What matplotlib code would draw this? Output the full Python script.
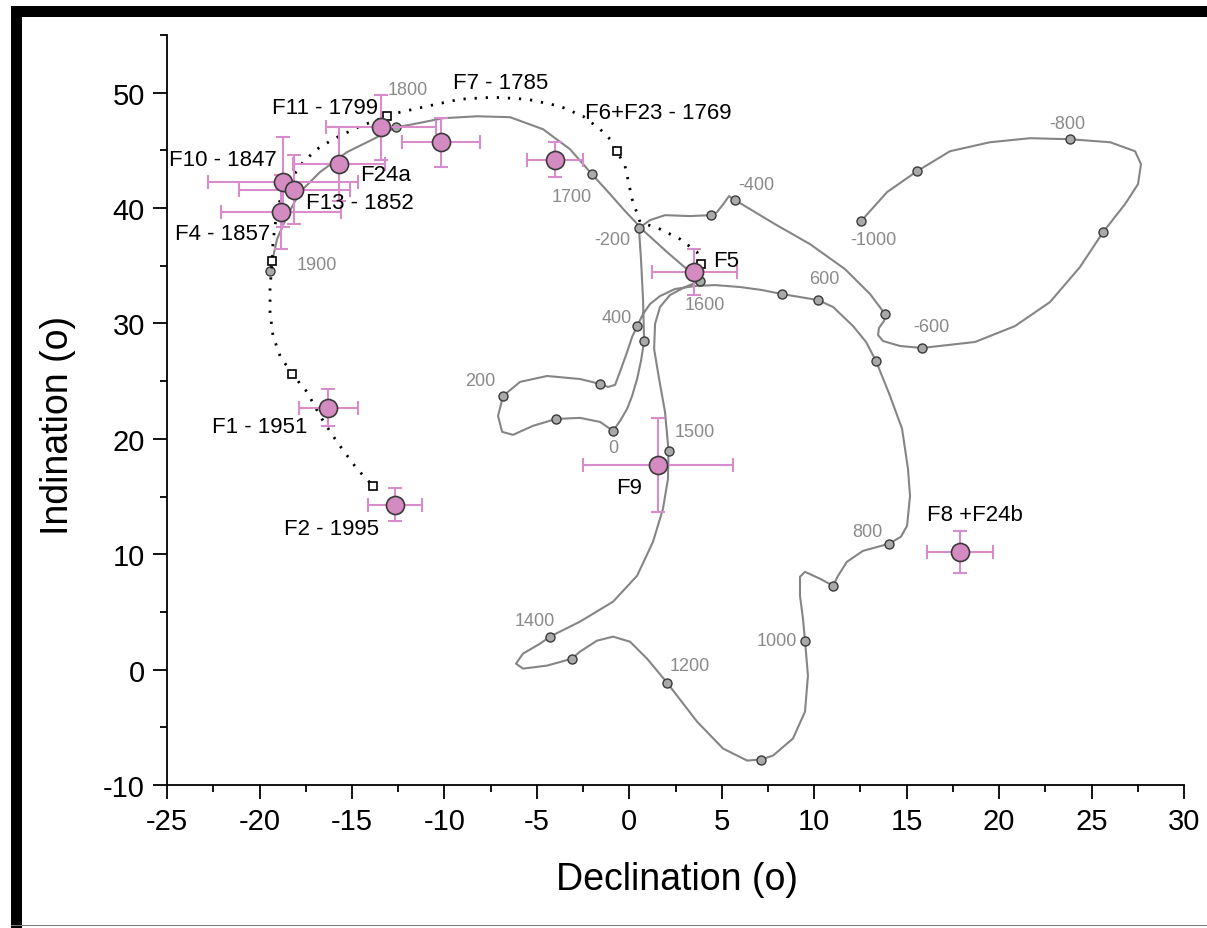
import numpy as np
import matplotlib
matplotlib.use("Agg")
import matplotlib.pyplot as plt
from matplotlib.patches import Rectangle
from matplotlib.ticker import MultipleLocator

plt.rcParams['font.family'] = ['Liberation Sans', 'DejaVu Sans']
plt.rcParams['axes.unicode_minus'] = False

# archaeomagnetic reference curve: dated nodes (every 100 yr)
curve_years = [-1000, -900, -800, -700, -600, -500, -400, -300, -200, -100,
               0, 100, 200, 300, 400, 500, 600, 700, 800, 900,
               1000, 1100, 1200, 1300, 1400, 1500, 1600, 1700, 1800, 1900]
curve_dec = [12.53, 15.56, 23.83, 25.62, 15.83, 13.83, 5.72, 4.42, 0.52, 0.80,
             -0.88, -3.96, -6.83, -1.58, 0.42, 8.26, 10.21, 13.34, 14.05, 11.02,
             9.50, 7.12, 2.04, -3.10, -4.29, 2.12, 3.82, -2.02, -12.62, -19.43]
curve_inc = [38.87, 43.20, 45.97, 37.92, 27.88, 30.82, 40.69, 39.39, 38.27, 28.48,
             20.69, 21.73, 23.72, 24.76, 29.78, 32.55, 32.03, 26.75, 10.91, 7.27,
             2.51, -7.79, -1.13, 0.95, 2.86, 18.96, 33.68, 42.94, 47.01, 34.55]

# traced path of the smooth curve
path_dec = [12.53, 13.94, 15.56, 17.34, 19.51, 21.67, 23.83, 26.00, 27.35, 27.67, 27.51, 26.81,
            25.62, 24.37, 22.75, 20.86, 18.70, 15.83, 14.64, 13.72, 13.45, 13.50, 13.77,
            13.83, 13.02, 11.66, 9.77, 7.88, 6.53, 5.72, 5.39, 5.12, 4.74,
            4.42, 3.28, 1.93, 1.12, 0.52, 0.63, 0.74, 0.80, 0.63, 0.42, 0.15, -0.12, -0.50,
            -0.88, -1.58, -2.67, -3.96, -5.21, -6.29, -6.88, -7.10,
            -6.83, -5.91, -4.45, -2.67, -1.58, -1.15, -0.77, -0.45, -0.12, 0.15,
            0.42, 0.74, 1.12, 1.66, 2.47, 3.55, 4.63, 5.99, 7.18, 8.26, 9.23,
            10.21, 11.02, 12.10, 12.80, 13.34, 14.10, 14.75, 15.07, 15.18, 15.02, 14.69,
            14.05, 12.64, 11.77, 11.29, 11.02, 10.31, 9.50, 9.23, 9.23, 9.39,
            9.50, 9.66, 9.50, 8.85, 7.77, 7.12, 6.37, 5.07, 3.66,
            2.04, 0.96, 0.04, -0.88, -1.75, -2.67, -3.10, -4.45, -5.75, -6.13, -5.75, -4.83,
            -4.29, -2.67, -0.88, 0.42, 1.28, 1.82, 2.09, 2.12, 1.93, 1.61, 1.34, 1.39, 1.66,
            2.20, 3.01, 3.82, 3.17, 2.04, 0.85, -0.23, -1.04,
            -2.02, -3.21, -4.67, -6.45, -8.24, -10.08, -11.70,
            -12.62, -13.86, -15.27, -16.73, -17.81, -18.51, -19.05, -19.43]
path_inc = [38.87, 41.39, 43.20, 44.93, 45.71, 46.06, 45.97, 45.71, 44.93, 43.81, 42.08, 40.35,
            37.92, 34.89, 31.86, 29.78, 28.40, 27.88, 28.05, 28.48, 29.00, 29.61, 30.22,
            30.82, 32.55, 34.72, 36.88, 38.61, 39.91, 40.69, 41.04, 40.43, 39.65,
            39.39, 39.31, 39.39, 38.96, 38.27, 35.58, 32.12, 28.48, 26.75, 25.19, 23.72, 22.60, 21.56,
            20.69, 21.47, 21.82, 21.73, 21.13, 20.35, 20.61, 21.99,
            23.72, 24.94, 25.45, 25.19, 24.76, 24.50, 24.68, 26.06, 27.53, 28.83,
            29.78, 30.82, 31.69, 32.38, 32.99, 33.25, 33.33, 33.16, 32.90, 32.55, 32.29,
            32.03, 31.43, 29.78, 28.40, 26.75, 23.72, 20.87, 17.40, 15.06, 12.47, 11.52,
            10.91, 10.30, 9.35, 8.14, 7.27, 7.88, 8.48, 8.05, 6.41, 4.42,
            2.51, -0.52, -3.64, -5.97, -7.45, -7.79, -7.88, -6.84, -4.50,
            -1.13, 0.95, 2.42, 2.86, 2.51, 1.56, 0.95, 0.35, 0.09, 0.52, 1.39, 2.25,
            2.86, 4.16, 5.89, 8.14, 11.08, 13.94, 16.54, 18.96, 22.34, 25.19, 27.79, 29.96, 31.43,
            32.47, 33.16, 33.68, 34.63, 36.19, 37.92, 39.74, 41.21,
            42.94, 45.11, 46.84, 47.88, 47.96, 47.79, 47.27,
            47.01, 45.97, 44.85, 43.12, 41.39, 39.31, 37.32, 34.55]

# labelled ages on the reference curve
age_labels = ['-1000', '-800', '-600', '-400', '-200', '0', '200', '400', '600',
              '800', '1000', '1200', '1400', '1500', '1600', '1700', '1800', '1900']
age_lab_dec = [13.18, 23.71, 16.32, 6.89, -0.94, -0.88, -8.04, -0.66, 10.57,
               12.90, 7.98, 3.28, -5.10, 3.55, 4.09, -3.10, -11.97, -16.89]
age_lab_inc = [37.32, 47.36, 29.78, 42.08, 37.32, 19.22, 25.02, 30.56, 33.94,
               11.95, 2.51, 0.35, 4.24, 20.61, 31.69, 41.04, 50.30, 35.15]

# historical geomagnetic model (dotted line, open squares)
model_dec = [3.88, 3.66, 2.74, 1.66, 0.58, 0.15, -0.23, -0.67, -1.04, -1.58, -2.50, -3.75,
             -5.53, -7.37, -9.16, -10.94, -12.40, -13.10, -14.56, -16.02, -16.89, -17.65,
             -18.19, -18.73, -19.05, -19.16, -19.27, -19.32, -19.43, -19.43, -19.27, -18.89,
             -18.24, -17.43, -16.73, -15.81, -14.73, -13.86]
model_inc = [35.15, 36.19, 37.32, 38.18, 38.79, 40.78, 43.64, 44.93, 45.97, 46.84, 47.96, 48.83,
             49.44, 49.61, 49.44, 48.83, 48.31, 47.96, 47.10, 45.97, 45.11, 43.98,
             42.77, 41.39, 39.91, 38.44, 37.06, 35.41, 32.99, 31.00, 28.92, 27.19,
             25.63, 24.07, 21.99, 19.74, 17.40, 15.93]
square_dec = [3.88, -0.67, -13.10, -19.32, -18.24, -13.86]
square_inc = [35.15, 44.93, 47.96, 35.41, 25.63, 15.93]

# sample directions with 95% errors
site_dec = [-13.43, -10.18, -4.02, 3.50, 1.55, 17.89, -12.67, -16.29, -18.73, -18.13, -18.83, -15.70]
site_inc = [47.0, 45.7, 44.2, 34.5, 17.7, 10.2, 14.3, 22.7, 42.3, 41.6, 39.65, 43.8]
site_dec_err = [2.95, 2.1, 1.5, 2.3, 4.05, 1.8, 1.46, 1.6, 4.05, 3.0, 3.25, 2.5]
site_inc_err = [2.8, 2.1, 1.5, 2.0, 4.07, 1.8, 1.43, 1.6, 3.9, 3.0, 3.2, 3.2]

site_labels = ['F7 - 1785', 'F6+F23 - 1769', 'F11 - 1799', 'F10 - 1847', 'F24a',
               'F13 - 1852', 'F4 - 1857', 'F1 - 1951', 'F2 - 1995', 'F9', 'F5', 'F8 +F24b']
site_lab_dec = [-6.94, 1.58, -16.47, -21.97, -13.16, -14.56, -21.97, -20.01, -16.12, -0.02, 5.24, 18.69]
site_lab_inc = [50.91, 48.31, 48.74, 44.24, 42.94, 40.52, 37.84, 21.04, 12.21, 15.76, 35.50, 13.42]


fig = plt.figure(figsize=(12.07, 9.29), dpi=100)
ax = fig.add_axes([0.1384, 0.1539, 0.8426, 0.8073])

ax.plot(path_dec, path_inc, color='#858585', lw=1.5, zorder=2)
ax.plot(curve_dec, curve_inc, 'o', ms=6.5, mfc='#a9a9a9', mec='#3a3a3a', mew=1.0, zorder=3)
for t, x, y in zip(age_labels, age_lab_dec, age_lab_inc):
    ax.text(x, y, t, fontsize=13, color='#8a8a8a', ha='center', va='center', zorder=4)

ax.plot(model_dec, model_inc, color='black', lw=2, ls=(0, (0.8, 3.2)), zorder=4)
ax.plot(square_dec, square_inc, 's', ms=6, mfc='white', mec='black', mew=1.2, zorder=5)

ax.errorbar(site_dec, site_inc, xerr=site_dec_err, yerr=site_inc_err, fmt='none',
            ecolor='#d98ccb', elinewidth=1.5, capsize=5, capthick=1.5, zorder=5)
ax.plot(site_dec, site_inc, 'o', ms=13, mfc='#d48bc1', mec='#3a3a3a', mew=1.2, zorder=6)

for t, x, y in zip(site_labels, site_lab_dec, site_lab_inc):
    ax.text(x, y, t, fontsize=16, color='black', ha='center', va='center', zorder=7)

ax.set_xlim(-25, 30)
ax.set_ylim(-10, 55)
ax.xaxis.set_major_locator(MultipleLocator(5))
ax.xaxis.set_minor_locator(MultipleLocator(2.5))
ax.yaxis.set_major_locator(MultipleLocator(10))
ax.yaxis.set_minor_locator(MultipleLocator(5))
ax.tick_params(which='major', length=10, width=1.3, labelsize=21, pad=6)
ax.tick_params(which='minor', length=5, width=1.3)
for s in ['top', 'right']:
    ax.spines[s].set_visible(False)
for s in ['left', 'bottom']:
    ax.spines[s].set_linewidth(1.3)

fig.text(0.5605, 1 - 880 / 929, 'Declination (o)', fontsize=27, ha='center', va='center')
fig.text(0.048, 1 - 425 / 929, 'Indination (o)', fontsize=27, ha='center', va='center', rotation=90)

# outer frame of the original figure
fig.add_artist(Rectangle((11 / 1207, 0), 11 / 1207, 1 - 7 / 929, transform=fig.transFigure,
                         facecolor='black', edgecolor='none'))
fig.add_artist(Rectangle((11 / 1207, 1 - 18 / 929), 1, 11 / 929, transform=fig.transFigure,
                         facecolor='black', edgecolor='none'))
fig.add_artist(Rectangle((11 / 1207, 1 - 927 / 929), 1, 1.5 / 929, transform=fig.transFigure,
                         facecolor='#777777', edgecolor='none'))

fig.savefig('out.png', dpi=100)
